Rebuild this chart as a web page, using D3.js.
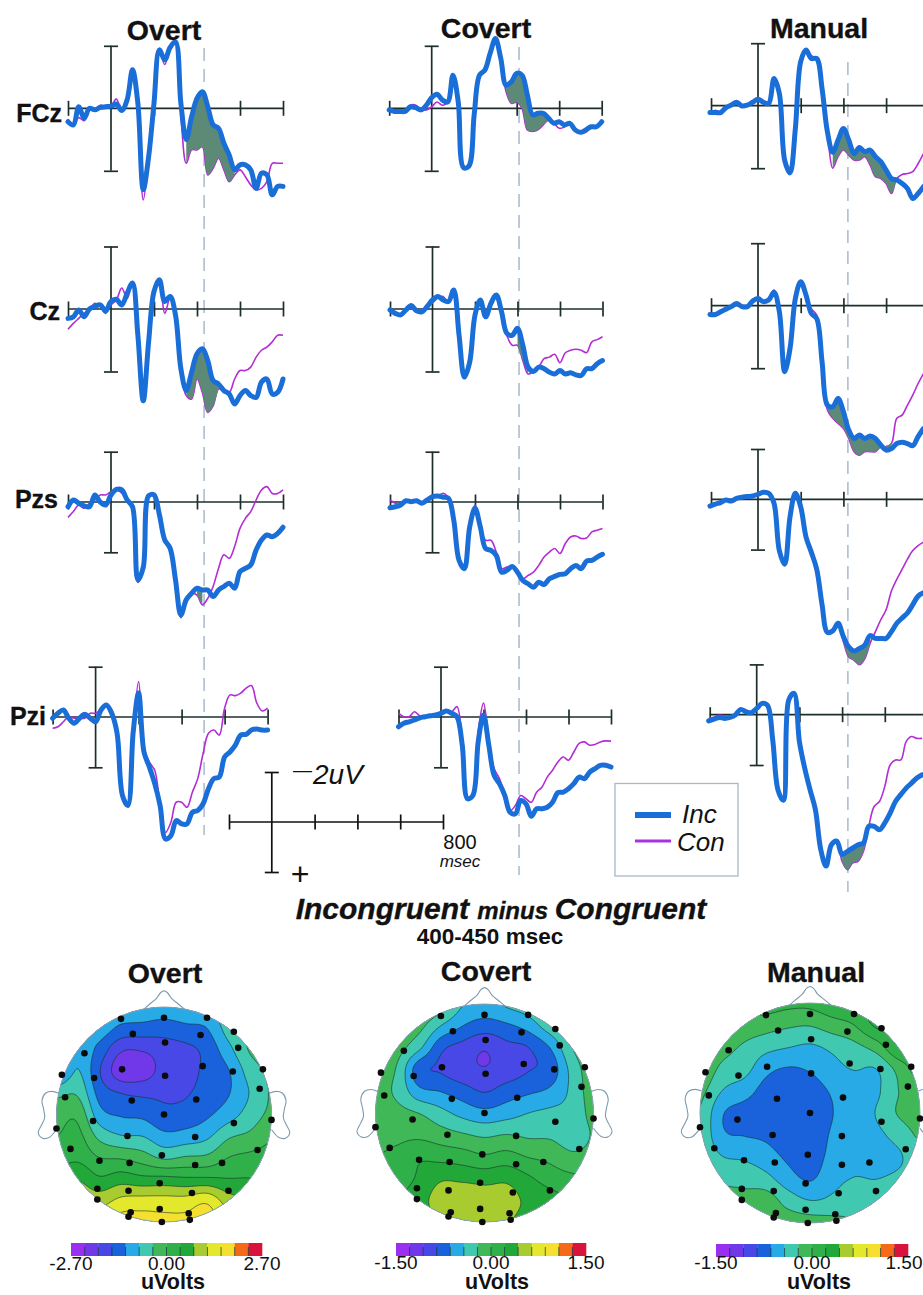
<!DOCTYPE html>
<html>
<head>
<meta charset="utf-8">
<style>
  html, body { margin: 0; background: #fff; }
  svg { display: block; font-family: "Liberation Sans", Arial, sans-serif; }
  text { fill: #111; }
  .heavy { stroke: #111; stroke-width: .35; }
</style>
<script src="https://cdn.jsdelivr.net/npm/d3@7"></script>
</head>
<body>
<div id="chart"></div>
<script>
// sample times in msec; the Manual column is plotted from slightly earlier
const timesA = d3.range(-200, 801, 25);
const timesManual = d3.range(-225, 776, 25);

// ERP amplitudes in uV (negative is plotted up)
const fczOvertInc = [.43,.53,-.05,.32,0,.05,-.03,-.05,-.07,-.14,.07,-.27,-1.23,-.16,2.6,1.55,-.16,-1.87,-1.55,-1.95,-2.13,-.16,1.0,.27,-.32,-.53,-.05,.53,.64,1.12,1.5,1.97,1.81,1.81,1.97,2.56,2.08,2.13,2.77,2.5,2.5];
const fczOvertCon = [.35,.5,.3,.4,.05,.05,-.1,-.05,-.07,-.3,.1,-.27,-1.23,-.16,2.93,1.55,-.16,-1.87,-1.4,-1.95,-2.13,.2,1.76,1.33,1.33,1.23,2.13,1.92,1.6,1.97,2.35,2.13,1.97,2.19,2.45,2.61,2.56,2.35,1.76,1.76,1.76];
const fczCovertInc = [.05,.1,.1,.1,-.05,-.02,.05,-.1,-.34,-.45,-.27,-.2,-1.06,-.2,1.9,1.85,.2,-1.06,-1.22,-1.76,-2.23,-1.6,-.74,-.85,-1.12,-1.06,-.43,.21,.16,.16,.32,.48,.43,.53,.48,.69,.77,.69,.59,.59,.43];
const fczCovertCon = [.1,.1,.1,.05,-.1,-.1,.05,.05,-.05,-.2,-.1,-.2,-1.06,-.2,1.9,1.85,.2,-1.0,-1.22,-1.76,-2.23,-1.6,-.53,-.16,-.19,0,.69,.74,.69,.53,.37,.48,.64,.6,.5,.72,.8,.77,.62,.6,.43];
const fczManualInc = [.22,.22,.22,.06,-.02,-.11,.01,-.02,-.11,-.21,-.11,-.07,-.87,-.39,1.75,2.15,.73,-1.41,-1.78,-1.51,-1.51,-.55,.83,1.49,1.1,.73,1.1,1.53,1.34,1.47,1.42,1.63,1.79,2.06,2.33,2.38,2.49,2.65,2.97,2.81,2.59];
const fczManualCon = [.22,.15,.2,.06,-.02,-.11,.01,-.02,-.11,-.21,-.11,-.07,-.87,-.39,1.75,2.15,.73,-1.41,-1.78,-1.6,-1.51,-.55,.83,2.0,1.63,1.42,1.58,1.74,1.74,1.63,1.9,2.27,2.33,2.49,2.81,2.33,2.2,2.17,2.11,1.85,1.53];

const czOvertInc = [.3,.25,.03,.25,0,-.08,-.13,.06,-.24,-.31,-.13,-.5,-.83,.84,2.94,1.05,-.56,-.94,-.24,-.4,.19,1.91,2.61,2.02,1.43,1.27,1.65,2.29,2.4,2.61,2.72,3.04,2.77,2.61,2.77,2.83,2.34,2.24,2.72,2.67,2.24];
const czOvertCon = [.65,.46,.3,.14,.03,-.18,-.08,.14,-.13,-.29,-.67,-.34,-.83,.84,2.94,1.05,-.56,-.77,.14,-.35,.19,1.91,2.77,2.88,2.24,2.67,3.31,3.1,2.56,2.61,2.67,2.24,1.97,1.97,1.86,1.54,1.32,1.22,1.05,.84,.84];
const czCovertInc = [.03,.14,.19,.03,-.11,.06,.09,-.08,-.29,-.4,-.29,-.24,-.61,.84,2.18,1.7,.19,-.29,.25,-.18,-.45,.09,.78,.84,.62,1.16,1.86,2.0,1.86,1.91,2.02,2.08,1.97,2.08,2.04,2.11,2.13,1.91,1.91,1.75,1.65];
const czCovertCon = [0,.1,.2,.05,-.05,.02,.02,-.1,-.2,-.35,-.4,-.2,-.61,.84,2.18,1.7,.19,-.25,.22,-.2,-.45,.09,.85,1.16,1.16,1.65,2.08,2.0,1.86,1.59,1.54,1.45,1.72,1.4,1.32,1.29,1.32,1.4,1.05,.98,.89];
const czManualInc = [.28,.28,.19,.11,.03,-.07,.03,.03,-.15,-.23,-.13,-.18,-.43,.19,2.11,1.37,-.23,-.77,-.34,.25,.41,1.79,3.18,3.23,2.97,3.39,3.98,4.25,4.14,4.25,4.17,4.25,4.46,4.62,4.57,4.41,4.37,4.41,4.48,4.19,3.93];
const czManualCon = [.25,.25,.2,.11,.03,-.07,.03,.03,-.15,-.23,-.13,-.25,-.5,.19,2.11,1.37,-.23,-.77,-.34,.1,.3,1.79,3.34,3.6,3.77,3.93,4.25,4.67,4.78,4.67,4.67,4.67,4.51,4.51,4.41,3.6,3.5,3.18,2.86,2.49,2.17];

const pzsOvertInc = [.19,-.08,.05,.15,.19,-.28,0,.12,-.28,-.5,-.48,-.08,.19,3.1,2.6,-.25,-.28,.5,1.51,1.84,3.1,4.49,3.89,3.63,3.43,3.5,3.5,3.76,3.5,3.36,3.23,3.43,2.77,2.64,2.5,1.91,1.51,1.31,1.38,1.25,1.0];
const pzsOvertCon = [.61,.38,.12,.25,.05,-.08,-.28,-.28,-.41,-.5,-.35,-.15,.19,3.2,2.6,-.3,-.28,.5,1.51,1.84,3.1,4.6,3.89,3.63,3.7,4.09,3.83,3.36,2.64,2.1,2.24,1.77,1.05,.65,.38,-.08,-.48,-.61,-.34,-.34,-.48];
const pzsCovertInc = [.23,.19,.12,-.05,-.01,-.05,.05,-.08,-.21,-.24,-.19,-.15,.72,2.32,2.65,.99,.25,.99,1.85,1.92,2.12,2.79,2.72,2.56,2.79,3.12,3.25,3.39,3.19,3.28,3.05,2.96,2.88,2.85,2.65,2.52,2.65,2.35,2.32,2.19,2.08];
const pzsCovertCon = [-.08,.05,.12,-.08,-.01,-.05,.05,-.08,-.21,-.24,-.35,-.15,.72,2.32,2.65,.99,.12,.99,1.52,1.52,1.99,2.65,2.59,2.56,2.79,3.05,2.92,2.79,2.52,2.19,1.99,1.85,2.05,1.65,1.39,1.35,1.45,1.43,1.19,1.12,1.05];
const pzsManualInc = [.27,.19,.13,.03,.07,-.04,-.08,-.11,-.13,-.2,-.28,-.24,.16,2.04,2.58,.7,-.24,.3,1.5,2.11,2.78,4.19,5.29,5.23,4.93,5.46,5.87,6.03,5.93,5.8,5.42,5.53,5.53,5.53,5.26,4.93,4.72,4.52,4.19,3.85,3.72];
const pzsManualCon = [.22,.19,.1,.03,.03,-.04,-.08,-.11,-.13,-.2,-.28,-.24,.16,2.04,2.58,.7,-.24,.3,1.41,2.11,2.78,4.19,5.29,5.23,4.93,5.66,6.27,6.4,6.58,6.34,5.73,5.26,4.79,4.39,3.65,3.18,2.78,2.38,2.04,1.84,1.7];

const pziOvertInc = [.05,-.15,-.28,.05,.25,.05,-.11,.05,.19,-.28,-.48,-.15,.65,3.12,3.52,.59,-.95,1.39,1.99,2.65,3.52,4.85,4.72,4.12,4.25,4.25,3.79,3.72,3.45,2.85,2.45,2.39,1.59,1.39,1.12,.72,.69,.52,.48,.52,.52];
const pziOvertCon = [.45,.39,.19,-.01,.05,.05,.05,-.15,-.15,-.28,-.41,-.28,.52,3.12,3.52,.59,-1.41,1.25,1.79,2.12,3.52,4.59,4.19,3.39,3.39,3.59,2.99,2.45,1.45,.65,.52,.72,-.35,-.88,-.85,-.95,-1.15,-1.25,-.55,-.24,-.35];
const pziCovertInc = [.39,.25,.19,.12,.03,-.01,-.05,-.08,-.15,-.24,-.15,-.01,1.12,3.25,3.12,.99,-.08,1.12,2.32,2.65,3.12,3.79,3.85,3.32,3.45,3.95,3.65,3.65,3.59,3.39,3.01,2.99,2.85,2.65,2.39,2.45,2.19,2.05,1.92,1.92,1.99];
const pziCovertCon = [-.15,-.01,-.01,-.21,-.05,-.01,-.05,-.08,-.15,-.28,-.21,-.41,.99,3.2,3.05,.59,-.55,.92,2.05,2.45,3.12,3.72,3.52,3.12,3.25,3.39,2.99,2.79,2.39,2.12,1.79,1.59,1.72,1.39,1.05,.99,1.12,1.09,.99,.95,.96];
const pziManualInc = [.25,.18,.11,.15,.11,.01,-.21,-.12,-.08,-.25,-.45,-.38,1.0,3.0,3.4,-.58,-.85,1.07,2.13,2.99,3.78,5.36,6.02,5.17,5.03,5.56,5.43,5.3,5.17,5.1,4.44,4.44,4.57,4.3,3.91,3.45,3.18,2.92,2.72,2.52,2.39];
const pziManualCon = [.15,.1,.02,.05,.05,.01,-.21,-.12,-.08,-.25,-.45,-.38,1.0,3.0,3.4,-.58,-.85,1.07,2.0,2.99,3.78,5.36,6.02,5.17,5.03,5.83,6.16,5.89,5.83,5.43,4.44,3.65,3.45,2.85,2.0,1.8,1.8,1.07,.87,.94,.94];

const conditions = ['Overt', 'Covert', 'Manual'];
const sites = ['FCz', 'Cz', 'Pzs', 'Pzi'];
const xTicks = [200, 400, 600, 800];
const markerMs = [433, 411, 421];   // dashed latency line per column

// scalp map values in uV, one list per column x = -1 ... 1, top to bottom of the head
const overtGrid = [
  [-1,-1,-1.2,-1.3,-.5,-.15,0,.2,.7,1,1.3],
  [-1,-1,-.85,-.75,-.45,-.1,.1,.3,.75,1.1,1.4],
  [-.9,-.95,-1.3,-1.52,-1.3,-1,-.5,0,.45,1,1.4],
  [-.9,-1.25,-1.88,-2.15,-1.55,-1.2,-.75,-.05,.6,1.25,1.7],
  [-.9,-1.3,-1.9,-2.1,-1.62,-1.25,-.78,-.2,.5,1.3,1.7],
  [-.95,-1.35,-1.75,-1.8,-1.6,-1.45,-1.05,-.45,.5,1.3,1.65],
  [-.9,-1.25,-1.65,-1.68,-1.58,-1.4,-1,-.35,.45,1.3,1.65],
  [-.8,-1.16,-1.42,-1.45,-1.38,-1.22,-.85,-.3,.45,1.45,1.75],
  [-.5,-.6,-.9,-1.18,-1.18,-.95,-.45,0,.4,.95,1.3],
  [-.2,-.3,-.35,-.6,-.75,-.6,-.3,.1,.4,.8,1],
  [-.1,-.1,-.2,-.3,-.35,-.3,-.05,.15,.3,.5,.7]
];
const covertGrid = [
  [-.1,-.1,-.1,-.12,-.15,-.12,-.05,0,.05,.1,.15],
  [-.1,-.1,-.14,-.24,-.26,-.15,-.05,.05,.1,.2,.2],
  [-.05,-.15,-.38,-.78,-.58,-.22,-.05,.18,.25,.35,.3],
  [-.1,-.43,-.8,-.88,-.65,-.36,-.12,.14,.4,.52,.45],
  [-.42,-.64,-.93,-1.0,-.76,-.5,-.19,.1,.38,.6,.5],
  [-.5,-.74,-1.05,-1.06,-.87,-.58,-.25,.03,.35,.55,.5],
  [-.4,-.68,-.92,-.98,-.76,-.52,-.21,.08,.38,.52,.45],
  [-.3,-.56,-.86,-.87,-.68,-.43,-.25,-.01,.25,.38,.35],
  [-.1,-.3,-.64,-.78,-.6,-.38,-.25,-.06,.12,.3,.3],
  [-.05,-.1,-.22,-.36,-.38,-.35,-.32,-.17,.05,.2,.2],
  [-.05,-.05,-.05,-.08,-.1,-.15,-.2,-.15,0,.15,.2]
];
const manualGrid = [
  [.2,.2,.1,0,-.15,-.23,-.25,-.22,-.1,0,.05],
  [.1,.1,-.1,-.27,-.43,-.62,-.6,-.42,-.25,-.1,0],
  [.1,-.05,-.25,-.35,-.55,-.72,-.65,-.46,-.28,-.14,-.05],
  [.1,-.12,-.36,-.58,-.72,-.75,-.68,-.55,-.36,-.1,-.1],
  [.05,-.18,-.42,-.66,-.78,-.8,-.76,-.68,-.55,-.3,-.1],
  [.05,-.2,-.46,-.62,-.75,-.82,-.78,-.75,-.66,-.42,-.12],
  [.15,-.1,-.38,-.5,-.62,-.65,-.62,-.58,-.5,-.38,-.15],
  [.2,0,-.28,-.42,-.55,-.56,-.54,-.5,-.42,-.3,-.2],
  [.3,.25,-.12,-.43,-.47,-.42,-.48,-.52,-.43,-.3,-.2],
  [.3,.3,.2,-.15,-.22,-.2,-.35,-.46,-.38,-.25,-.2],
  [.3,.3,.2,.1,-.05,-.1,-.18,-.3,-.3,-.2,-.2]
];
const mapRange = [2.7, 1.5, 1.5];

// electrode montage on the unit head
const electrodeX = [-.40,0,.40,.65,-.29,.34,.01,.69,-.74,-.39,.36,.01,.64,.92,-.95,-.65,.89,-.92,-.30,.30,0,-.66,1.0,.65,-1.0,-.34,.29,-.87,.87,-.02,-.60,-.32,.29,.54,-.04,-.62,-.33,.26,.60,-.62,-.31,-.04,.23,-.33,.24,-.02];
const electrodeY = [-.89,-.90,-.90,-.77,-.75,-.74,-.67,-.62,-.57,-.42,-.45,-.36,-.40,-.42,-.37,-.34,-.24,-.16,-.13,-.14,0,.06,.05,.08,.13,.20,.21,.32,.33,.38,.43,.45,.47,.45,.64,.69,.71,.73,.71,.79,.91,.88,.92,.95,.98,1.0];

const bandColors = ['#9a2ff0','#7038e8','#4848e6','#1a62dc','#28aae6','#40c8b0','#40b858','#30b048','#22a838','#a8cc30','#e4e82c','#f5e030','#f56a1a','#d8143c'];

const incColor = '#1a6ed8', conColor = '#b32cd6', shadeColor = '#5c8a76', axisColor = '#1d2f2c';

// page layout
const width = 923, height = 1295;
const columns = [
  { pxPerMs: .215, mapX: 164, mapY: 1114.5, mapR: 107.5, titleX: 164, titleY: 40, mapTitleX: 165, mapTitleY: 983, barX: [71, 262], barY: 1243, unitX: 173, labelY: 1270, labelShift: 0, dashTop: 48, dashBottom: 835 },
  { pxPerMs: .2125, mapX: 484.5, mapY: 1113, mapR: 109, titleX: 486, titleY: 38, mapTitleX: 486, mapTitleY: 981, barX: [396, 586], barY: 1243, unitX: 497, labelY: 1269, labelShift: 0, dashTop: 47, dashBottom: 875 },
  { pxPerMs: .2135, mapX: 810, mapY: 1113, mapR: 110, titleX: 819, titleY: 38, mapTitleX: 816, mapTitleY: 982, barX: [716, 908], barY: 1244, unitX: 819, labelY: 1269, labelShift: -4, dashTop: 62, dashBottom: 892 }
];
// per site: axis origin of each column, zero line of each column, half length of the 2 uV bar
const rows = [
  { axisX: [111, 431.7, 758], zero: [108.3, 108.3, 105.7], half: 62.5, labelX: 62, labelY: 122 },
  { axisX: [111, 432.5, 758], zero: [309, 309, 305.7], half: 62.5, labelX: 60, labelY: 320 },
  { axisX: [111, 432.5, 758], zero: [502, 502, 499.3], half: 50.3, labelX: 58, labelY: 508 },
  { axisX: [95.6, 441, 756.7], zero: [717, 717, 714.7], half: 50.3, labelX: 46, labelY: 725 }
];

const panels = [
  { inc: fczOvertInc, con: fczOvertCon, shade: [340, 575] },
  { inc: fczCovertInc, con: fczCovertCon, shade: [350, 560] },
  { inc: fczManualInc, con: fczManualCon, shade: [340, 650] },
  { inc: czOvertInc, con: czOvertCon, shade: [340, 510] },
  { inc: czCovertInc, con: czCovertCon, shade: [395, 450] },
  { inc: czManualInc, con: czManualCon, shade: [325, 630] },
  { inc: pzsOvertInc, con: pzsOvertCon, shade: [400, 445] },
  { inc: pzsCovertInc, con: pzsCovertCon, shade: null },
  { inc: pzsManualInc, con: pzsManualCon, shade: [385, 525] },
  { inc: pziOvertInc, con: pziOvertCon, shade: null },
  { inc: pziCovertInc, con: pziCovertCon, shade: null },
  { inc: pziManualInc, con: pziManualCon, shade: [385, 525] }
];

const svg = d3.select('#chart').append('svg')
  .attr('width', width).attr('height', height);

// dashed latency lines go under the curves
conditions.forEach((name, c) => {
  const col = columns[c];
  const x = rows[0].axisX[c] + markerMs[c] * col.pxPerMs;
  svg.append('line')
    .attr('x1', x).attr('x2', x)
    .attr('y1', col.dashTop).attr('y2', col.dashBottom)
    .attr('stroke', '#a9b9cd').attr('stroke-width', 1.5)
    .attr('stroke-dasharray', '13 8');
});

function drawPanel(p, r, c) {
  const row = rows[r], col = columns[c];
  const times = c === 2 ? timesManual : timesA;
  const first = c === 2 ? -220 : -200;
  const x = d3.scaleLinear()
    .domain([0, 800])
    .range([row.axisX[c], row.axisX[c] + 800 * col.pxPerMs]);
  const y = d3.scaleLinear()
    .domain([-2, 2])
    .range([row.zero[c] - row.half, row.zero[c] + row.half]);
  const g = svg.append('g');

  // x axis with ticks through the line
  const xAxis = g.append('g')
    .attr('transform', `translate(0,${row.zero[c]})`)
    .call(d3.axisBottom(x).tickValues([first, ...xTicks]).tickFormat(''));
  xAxis.select('.domain').remove();
  xAxis.append('line').attr('x1', x(first)).attr('x2', x(800))
    .attr('stroke', axisColor).attr('stroke-width', 1.7);
  xAxis.selectAll('.tick line').attr('y1', -7.5).attr('y2', 7.5)
    .attr('stroke', axisColor).attr('stroke-width', 1.7);

  // y axis, the two caps are the +/-2 uV marks
  const yAxis = g.append('g')
    .attr('transform', `translate(${row.axisX[c]},0)`)
    .call(d3.axisLeft(y).tickValues([-2, 2]).tickFormat(''));
  yAxis.select('.domain').remove();
  yAxis.append('line').attr('y1', y(-2)).attr('y2', y(2))
    .attr('stroke', axisColor).attr('stroke-width', 1.7);
  yAxis.selectAll('.tick line').attr('x1', -7).attr('x2', 7)
    .attr('stroke', axisColor).attr('stroke-width', 1.7);

  const curve = d3.curveCatmullRom.alpha(0.5);
  const line = d3.line().x((d, i) => x(times[i])).y(d => y(d)).curve(curve);

  g.append('path').attr('d', line(p.con))
    .attr('fill', 'none').attr('stroke', conColor)
    .attr('stroke-width', 1.6).attr('stroke-linejoin', 'round');

  if (p.shade) {
    const pts = times.map((t, i) => ({ t, a: p.inc[i], b: p.con[i] }))
      .filter(d => d.t >= p.shade[0] && d.t <= p.shade[1]);
    const area = d3.area().x(d => x(d.t)).y0(d => y(d.a)).y1(d => y(d.b)).curve(curve);
    g.append('path').attr('d', area(pts)).attr('fill', shadeColor);
  }

  g.append('path').attr('d', line(p.inc))
    .attr('fill', 'none').attr('stroke', incColor)
    .attr('stroke-width', 5).attr('stroke-linejoin', 'round').attr('stroke-linecap', 'round');
}

sites.forEach((site, r) => {
  conditions.forEach((name, c) => drawPanel(panels[r * 3 + c], r, c));
  svg.append('text').attr('class', 'heavy').attr('x', rows[r].labelX).attr('y', rows[r].labelY)
    .attr('text-anchor', 'end').attr('font-weight', 700).attr('font-size', 25)
    .text(site);
});

// column titles
conditions.forEach((name, c) => {
  svg.append('text').attr('class', 'heavy').attr('x', columns[c].titleX).attr('y', columns[c].titleY)
    .attr('text-anchor', 'middle').attr('font-weight', 700).attr('font-size', 28.5)
    .text(name);
});

// calibration cross
const calX = d3.scaleLinear().domain([-200, 800]).range([229, 443]);
const calY = d3.scaleLinear().domain([-2, 2]).range([772, 872]);
const cal = svg.append('g');
const calAxis = cal.append('g').attr('transform', `translate(0,${calY(0)})`)
  .call(d3.axisBottom(calX).tickValues([-200, 200, 400, 600, 800]).tickFormat(''));
calAxis.select('.domain').remove();
calAxis.append('line').attr('x1', calX(-200)).attr('x2', calX(800)).attr('stroke', '#111').attr('stroke-width', 1.7);
calAxis.selectAll('.tick line').attr('y1', -7.5).attr('y2', 7.5).attr('stroke', '#111').attr('stroke-width', 1.7);
const calYAxis = cal.append('g').attr('transform', `translate(${calX(0)},0)`)
  .call(d3.axisLeft(calY).tickValues([-2, 2]).tickFormat(''));
calYAxis.select('.domain').remove();
calYAxis.append('line').attr('y1', calY(-2)).attr('y2', calY(2)).attr('stroke', '#111').attr('stroke-width', 1.7);
calYAxis.selectAll('.tick line').attr('x1', -7).attr('x2', 7).attr('stroke', '#111').attr('stroke-width', 1.7);

svg.append('text').attr('x', 293).attr('y', 776).attr('font-size', 19).text('\u2014');
svg.append('text').attr('x', 313).attr('y', 784).attr('font-size', 28).attr('font-style', 'italic').text('2uV');
svg.append('text').attr('x', 300).attr('y', 885).attr('font-size', 32).attr('text-anchor', 'middle').text('+');
svg.append('text').attr('x', 460).attr('y', 849).attr('font-size', 20).attr('text-anchor', 'middle').text('800');
svg.append('text').attr('x', 460).attr('y', 867).attr('font-size', 17).attr('font-style', 'italic').attr('text-anchor', 'middle').text('msec');

// legend box
svg.append('rect').attr('x', 615).attr('y', 783.5).attr('width', 123).attr('height', 92.5)
  .attr('fill', '#fff').attr('stroke', '#a9b8cc').attr('stroke-width', 1.3);
const legendNames = ['Inc', 'Con'];
legendNames.forEach((n, i) => {
  const ly = 815 + i * 26;
  svg.append('line').attr('x1', 635).attr('x2', 671).attr('y1', ly).attr('y2', ly)
    .attr('stroke', i === 0 ? incColor : '#a832e0').attr('stroke-width', i === 0 ? 6 : 3);
  svg.append('text').attr('x', i === 0 ? 682 : 677).attr('y', ly + 8 + i * 2)
    .attr('font-size', 26).attr('font-style', 'italic').text(n);
});

// heading of the maps
const heading = svg.append('text').attr('class', 'heavy').attr('x', 501).attr('y', 919).attr('text-anchor', 'middle')
  .attr('font-weight', 700).attr('font-style', 'italic').attr('font-size', 30);
heading.append('tspan').text('Incongruent ');
heading.append('tspan').attr('font-size', 24).text('minus ');
heading.append('tspan').text('Congruent');
svg.append('text').attr('x', 490).attr('y', 944).attr('text-anchor', 'middle')
  .attr('font-weight', 700).attr('font-size', 22.5).text('400-450 msec');

// catmull-rom sampling of the value grid
function cubic(a, b, c, d, t) {
  return b + 0.5 * t * (c - a + t * (2 * a - 5 * b + 4 * c - d + t * (3 * (b - c) + d - a)));
}
function sampleGrid(grid, u, v) {
  const m = grid.length - 1;
  const i = Math.min(Math.floor(u), m - 1), j = Math.min(Math.floor(v), m - 1);
  const at = (ci, cj) => grid[Math.max(0, Math.min(m, ci))][Math.max(0, Math.min(m, cj))];
  const across = k => cubic(at(i - 1, k), at(i, k), at(i + 1, k), at(i + 2, k), u - i);
  return cubic(across(j - 1), across(j), across(j + 1), across(j + 2), v - j);
}

const noseShape = [[-.18,-.985],[-.13,-1.03],[-.07,-1.08],[-.03,-1.135],[0,-1.15],[.03,-1.135],[.07,-1.08],[.13,-1.03],[.19,-.98]];
const earShape = [[.985,-.2],[1.04,-.215],[1.1,-.2],[1.135,-.13],[1.12,-.05],[1.11,.03],[1.14,.1],[1.17,.17],[1.13,.22],[1.07,.215],[1.0,.14]];

function drawMap(grid, c) {
  const col = columns[c], max = mapRange[c];
  const hx = d3.scaleLinear().domain([-1, 1]).range([col.mapX - col.mapR, col.mapX + col.mapR]);
  const hy = d3.scaleLinear().domain([-1, 1]).range([col.mapY - col.mapR, col.mapY + col.mapR]);
  const g = svg.append('g');

  const clipId = 'head' + c;
  svg.append('clipPath').attr('id', clipId).append('circle')
    .attr('cx', col.mapX).attr('cy', col.mapY).attr('r', col.mapR);

  const n = 160;
  const values = new Array(n * n);
  for (let j = 0; j < n; j++) {
    for (let i = 0; i < n; i++) {
      values[j * n + i] = sampleGrid(grid, i / (n - 1) * 10, j / (n - 1) * 10);
    }
  }
  const levels = d3.range(1, bandColors.length).map(k => -max + k * 2 * max / bandColors.length);
  const contours = d3.contours().size([n, n]).smooth(true).thresholds(levels)(values);
  const path = d3.geoPath(d3.geoTransform({
    point(px, py) { this.stream.point(hx((px - .5) / (n - 1) * 2 - 1), hy((py - .5) / (n - 1) * 2 - 1)); }
  }));

  const bands = g.append('g').attr('clip-path', `url(#${clipId})`);
  bands.append('circle').attr('cx', col.mapX).attr('cy', col.mapY).attr('r', col.mapR)
    .attr('fill', bandColors[0]);
  bands.selectAll('path').data(contours).enter().append('path')
    .attr('d', path)
    .attr('fill', (d, i) => bandColors[i + 1])
    .attr('stroke', '#13302c').attr('stroke-width', .7).attr('stroke-opacity', .85);

  g.append('circle').attr('cx', col.mapX).attr('cy', col.mapY).attr('r', col.mapR)
    .attr('fill', 'none').attr('stroke', '#8fa3ad').attr('stroke-width', 1);

  const outline = d3.line().x(d => hx(d[0])).y(d => hy(d[1])).curve(d3.curveCatmullRom);
  const outlines = g.append('g').attr('fill', 'none').attr('stroke', '#7e9bb0').attr('stroke-width', 1.1);
  outlines.append('path').attr('d', outline(noseShape));
  outlines.append('path').attr('d', outline(earShape));
  outlines.append('path').attr('d', outline(earShape.map(d => [-d[0], d[1]])));

  g.selectAll('circle.site').data(electrodeX).enter().append('circle')
    .attr('class', 'site')
    .attr('cx', d => hx(d))
    .attr('cy', (d, i) => hy(electrodeY[i]))
    .attr('r', 3.3).attr('fill', '#0b0b0b');

  svg.append('text').attr('class', 'heavy').attr('x', col.mapTitleX).attr('y', col.mapTitleY).attr('text-anchor', 'middle')
    .attr('font-weight', 700).attr('font-size', 28.5).text(conditions[c]);

  // colour bar
  const bar = d3.scaleLinear().domain([-max, max]).range(col.barX);
  const step = 2 * max / bandColors.length;
  const cb = svg.append('g');
  cb.selectAll('rect').data(bandColors).enter().append('rect')
    .attr('x', (d, i) => bar(-max + i * step))
    .attr('y', col.barY)
    .attr('width', (d, i) => bar(-max + (i + 1) * step) - bar(-max + i * step) + .3)
    .attr('height', 13)
    .attr('fill', d => d);
  cb.selectAll('line').data(levels).enter().append('line')
    .attr('x1', d => bar(d)).attr('x2', d => bar(d))
    .attr('y1', col.barY + 4).attr('y2', col.barY + 13)
    .attr('stroke', '#13302c').attr('stroke-width', .7);

  const fmt = d3.format('.2f');
  [-max, 0, max].forEach(v => {
    svg.append('text').attr('x', bar(v) + (v === max ? col.labelShift : 0)).attr('y', col.labelY)
      .attr('text-anchor', 'middle').attr('font-size', 19).text(fmt(v).replace('\u2212', '-'));
  });
  svg.append('text').attr('x', col.unitX).attr('y', 1289).attr('text-anchor', 'middle')
    .attr('font-weight', 700).attr('font-size', 21.5).text('uVolts');
}

[overtGrid, covertGrid, manualGrid].forEach(drawMap);
</script>
</body>
</html>
